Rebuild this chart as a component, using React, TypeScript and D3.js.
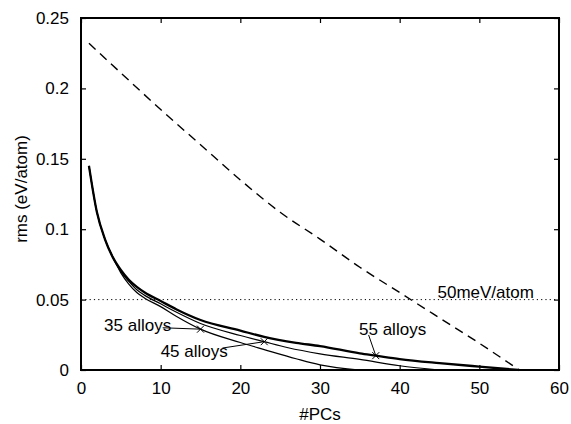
import { useEffect, useRef } from "react";
import * as d3 from "d3";

// #PCs / rms values
const pcs55 = [1, 2, 3, 4, 5, 6, 7, 8, 10, 12, 15, 20, 23, 27, 30, 35, 37, 40, 45, 50, 55];
const rms55 = [0.145, 0.112, 0.093, 0.08, 0.071, 0.064, 0.059, 0.055, 0.049, 0.043, 0.0355, 0.028, 0.0235, 0.0193, 0.017, 0.0118, 0.0102, 0.0078, 0.0049, 0.0024, 0];

const pcs45 = [1, 2, 3, 4, 5, 6, 7, 8, 10, 12, 15, 20, 23, 26, 30, 35, 40, 45];
const rms45 = [0.145, 0.112, 0.093, 0.08, 0.07, 0.063, 0.057, 0.053, 0.047, 0.041, 0.033, 0.0245, 0.0201, 0.0158, 0.0115, 0.0075, 0.003, 0];

const pcs35 = [1, 2, 3, 4, 5, 6, 7, 8, 10, 12, 15, 20, 23, 27, 30, 35];
const rms35 = [0.145, 0.112, 0.093, 0.08, 0.069, 0.061, 0.055, 0.051, 0.045, 0.038, 0.029, 0.0195, 0.0145, 0.008, 0.0037, 0];

const pcsDashed = [1, 5, 10, 15, 20, 25, 30, 35, 40, 45, 50, 55];
const rmsDashed = [0.232, 0.211, 0.185, 0.16, 0.135, 0.112, 0.093, 0.073, 0.055, 0.037, 0.019, 0];

const threshold = 0.05;
const thresholdLabel = "50meV/atom";

const xTicks = [0, 10, 20, 30, 40, 50, 60];
const yTicks = [0, 0.05, 0.1, 0.15, 0.2, 0.25];

// annotation: label position, leader start, marker on the curve
const notes = [
  { label: "35 alloys", tx: 2.9, ty: 0.0277, lx: 10.25, ly: 0.03, mx: 15, my: 0.029 },
  { label: "45 alloys", tx: 10.0, ty: 0.0092, lx: 17.75, ly: 0.0156, mx: 23, my: 0.0201 },
  { label: "55 alloys", tx: 34.9, ty: 0.0249, lx: 36.1, ly: 0.0249, mx: 37, my: 0.0102 },
];

export default function App() {
  const svgRef = useRef<SVGSVGElement>(null);
  const width = 571;
  const height = 424;

  useEffect(() => {
    if (!svgRef.current) return;
    const marginTop = 18;
    const marginRight = 12;
    const marginBottom = 54;
    const marginLeft = 81;

    const x = d3.scaleLinear([0, 60], [marginLeft, width - marginRight]);
    const y = d3.scaleLinear([0, 0.25], [height - marginBottom, marginTop]);

    const svg = d3.select(svgRef.current);

    const line = d3.line<[number, number]>()
      .x(d => x(d[0]))
      .y(d => y(d[1]))
      .curve(d3.curveMonotoneX);

    // dotted threshold
    svg.append("line")
      .attr("x1", x(0)).attr("x2", x(60))
      .attr("y1", y(threshold)).attr("y2", y(threshold))
      .attr("stroke", "#000")
      .attr("stroke-width", 1)
      .attr("stroke-dasharray", "1.2 3.1");

    svg.append("text")
      .attr("x", x(44.75))
      .attr("y", y(0.0511))
      .text(thresholdLabel);

    // dashed curve
    svg.append("path")
      .attr("fill", "none")
      .attr("stroke", "#000")
      .attr("stroke-width", 1.4)
      .attr("stroke-dasharray", "9 6")
      .attr("d", line(pcsDashed.map((p, i) => [p, rmsDashed[i]])));

    svg.append("path")
      .attr("fill", "none")
      .attr("stroke", "#000")
      .attr("stroke-width", 1.2)
      .attr("d", line(pcs35.map((p, i) => [p, rms35[i]])));

    svg.append("path")
      .attr("fill", "none")
      .attr("stroke", "#000")
      .attr("stroke-width", 1.2)
      .attr("d", line(pcs45.map((p, i) => [p, rms45[i]])));

    svg.append("path")
      .attr("fill", "none")
      .attr("stroke", "#000")
      .attr("stroke-width", 2.3)
      .attr("d", line(pcs55.map((p, i) => [p, rms55[i]])));

    // annotations
    const note = svg.append("g").selectAll("g").data(notes).join("g");
    note.append("text")
      .attr("x", d => x(d.tx))
      .attr("y", d => y(d.ty))
      .text(d => d.label);
    note.append("line")
      .attr("x1", d => x(d.lx)).attr("y1", d => y(d.ly))
      .attr("x2", d => x(d.mx)).attr("y2", d => y(d.my))
      .attr("stroke", "#000").attr("stroke-width", 1);
    note.append("path")
      .attr("transform", d => `translate(${x(d.mx)},${y(d.my)})`)
      .attr("d", "M-3.5,-3.5L3.5,3.5M-3.5,3.5L3.5,-3.5")
      .attr("stroke", "#000").attr("stroke-width", 1);

    // axes, ticks pointing inward
    svg.append("g")
      .attr("transform", `translate(0,${height - marginBottom})`)
      .call(d3.axisBottom(x).tickValues(xTicks).tickFormat(d3.format("d")).tickSize(-5).tickSizeOuter(0).tickPadding(12))
      .call(g => g.select(".domain").remove());
    svg.append("g")
      .attr("transform", `translate(0,${marginTop})`)
      .call(d3.axisTop(x).tickValues(xTicks).tickFormat(() => "").tickSize(-5).tickSizeOuter(0))
      .call(g => g.select(".domain").remove());
    svg.append("g")
      .attr("transform", `translate(${marginLeft},0)`)
      .call(d3.axisLeft(y).tickValues(yTicks).tickFormat(d => String(+d)).tickSize(-5).tickSizeOuter(0).tickPadding(12))
      .call(g => g.select(".domain").remove());
    svg.append("g")
      .attr("transform", `translate(${width - marginRight},0)`)
      .call(d3.axisRight(y).tickValues(yTicks).tickFormat(() => "").tickSize(-5).tickSizeOuter(0))
      .call(g => g.select(".domain").remove());

    svg.selectAll(".tick text")
      .attr("font-size", 17)
      .attr("font-family", "'Liberation Sans', Arial, Helvetica, sans-serif")
      .attr("fill", "#000");
    svg.selectAll(".tick line").attr("stroke", "#000").attr("stroke-width", 1.2);

    // frame
    svg.append("rect")
      .attr("x", marginLeft).attr("y", marginTop)
      .attr("width", width - marginLeft - marginRight)
      .attr("height", height - marginTop - marginBottom)
      .attr("fill", "none")
      .attr("stroke", "#000")
      .attr("stroke-width", 2);

    // axis labels
    svg.append("text")
      .attr("x", (marginLeft + width - marginRight) / 2)
      .attr("y", 420)
      .attr("text-anchor", "middle")
      .text("#PCs");
    svg.append("text")
      .attr("transform", `translate(27,${(marginTop + height - marginBottom) / 2 - 5}) rotate(-90)`)
      .attr("text-anchor", "middle")
      .text("rms (eV/atom)");

    return () => {
      svg.selectAll("*").remove();
    };
  }, []);

  return (
    <svg ref={svgRef}
      width={width}
      height={height}
      viewBox={`0 0 ${width} ${height}`}
      style={{
        position: "absolute",
        left: 0,
        top: 0,
        background: "#fff",
        fontFamily: "'Liberation Sans', Arial, Helvetica, sans-serif",
        fontSize: "17px",
      }}
    >
    </svg>
  );
}
